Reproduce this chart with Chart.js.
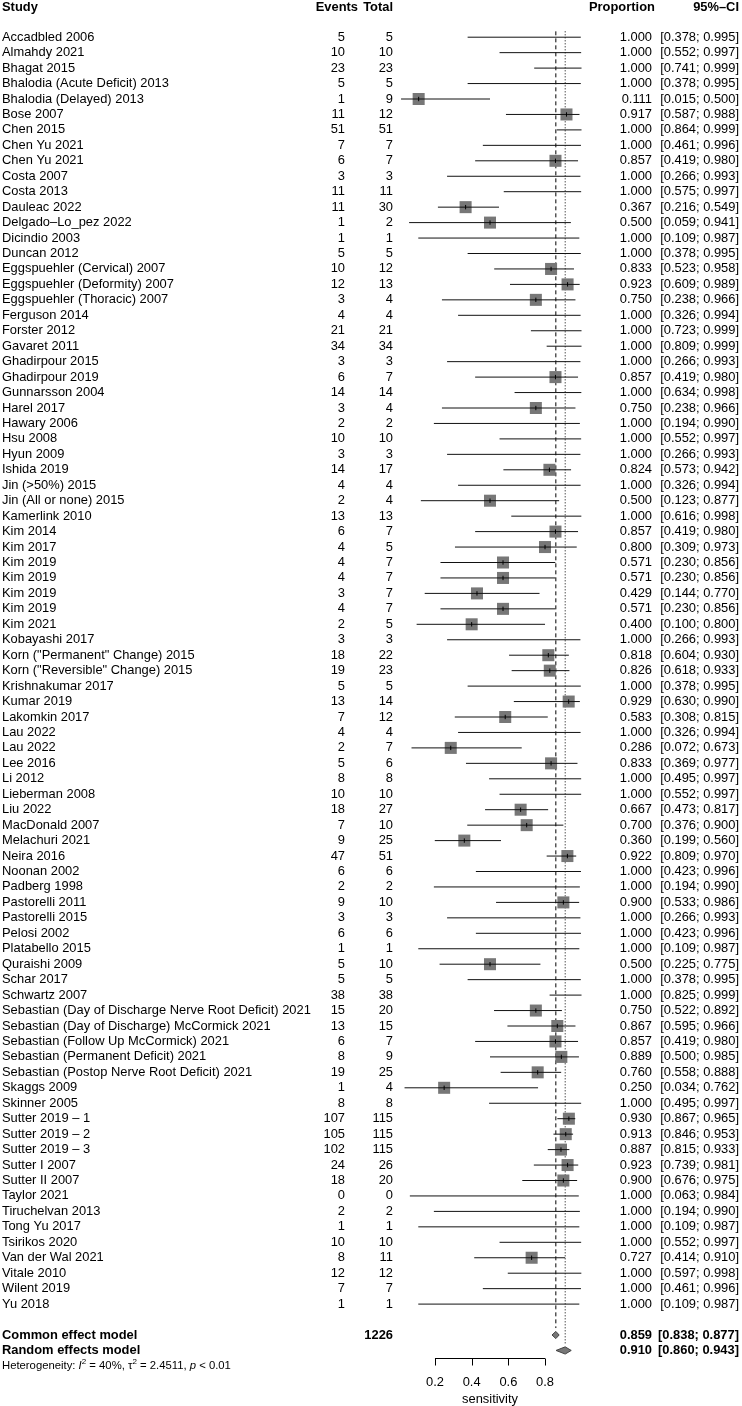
<!DOCTYPE html>
<html>
<head>
<meta charset="utf-8">
<script src="https://cdn.jsdelivr.net/npm/chart.js@4.4.0/dist/chart.umd.min.js"></script>
<style>
  html, body { margin: 0; padding: 0; background: #fff; }
  #wrap { width: 742px; height: 1406px; }
</style>
</head>
<body>
<div id="wrap"><canvas id="forest" width="742" height="1406"></canvas></div>
<script>
var studies = ["Accadbled 2006", "Almahdy 2021", "Bhagat 2015", "Bhalodia (Acute Deficit) 2013", "Bhalodia (Delayed) 2013",
  "Bose 2007", "Chen 2015", "Chen Yu 2021", "Chen Yu 2021", "Costa 2007", "Costa 2013", "Dauleac 2022",
  "Delgado\u2013Lo_pez 2022", "Dicindio 2003", "Duncan 2012", "Eggspuehler (Cervical) 2007", "Eggspuehler (Deformity) 2007",
  "Eggspuehler (Thoracic) 2007", "Ferguson 2014", "Forster 2012", "Gavaret 2011", "Ghadirpour 2015", "Ghadirpour 2019",
  "Gunnarsson 2004", "Harel 2017", "Hawary 2006", "Hsu 2008", "Hyun 2009", "Ishida 2019", "Jin (>50%) 2015",
  "Jin (All or none) 2015", "Kamerlink 2010", "Kim 2014", "Kim 2017", "Kim 2019", "Kim 2019", "Kim 2019", "Kim 2019",
  "Kim 2021", "Kobayashi 2017", "Korn (\"Permanent\" Change) 2015", "Korn (\"Reversible\" Change) 2015", "Krishnakumar 2017",
  "Kumar 2019", "Lakomkin 2017", "Lau 2022", "Lau 2022", "Lee 2016", "Li 2012", "Lieberman 2008", "Liu 2022",
  "MacDonald 2007", "Melachuri 2021", "Neira 2016", "Noonan 2002", "Padberg 1998", "Pastorelli 2011", "Pastorelli 2015",
  "Pelosi 2002", "Platabello 2015", "Quraishi 2009", "Schar 2017", "Schwartz 2007",
  "Sebastian (Day of Discharge Nerve Root Deficit) 2021", "Sebastian (Day of Discharge) McCormick 2021",
  "Sebastian (Follow Up McCormick) 2021", "Sebastian (Permanent Deficit) 2021", "Sebastian (Postop Nerve Root Deficit) 2021",
  "Skaggs 2009", "Skinner 2005", "Sutter 2019 \u2013 1", "Sutter 2019 \u2013 2", "Sutter 2019 \u2013 3", "Sutter I 2007",
  "Sutter II 2007", "Taylor 2021", "Tiruchelvan 2013", "Tong Yu 2017", "Tsirikos 2020", "Van der Wal 2021",
  "Vitale 2010", "Wilent 2019", "Yu 2018"];

var events = [5, 10, 23, 5, 1, 11, 51, 7, 6, 3, 11, 11, 1, 1, 5, 10, 12, 3, 4, 21, 34, 3, 6, 14, 3, 2, 10, 3, 14, 4,
  2, 13, 6, 4, 4, 4, 3, 4, 2, 3, 18, 19, 5, 13, 7, 4, 2, 5, 8, 10, 18, 7, 9, 47, 6, 2, 9, 3, 6, 1, 5, 5, 38,
  15, 13, 6, 8, 19, 1, 8, 107, 105, 102, 24, 18, 0, 2, 1, 10, 8, 12, 7, 1];

var totals = [5, 10, 23, 5, 9, 12, 51, 7, 7, 3, 11, 30, 2, 1, 5, 12, 13, 4, 4, 21, 34, 3, 7, 14, 4, 2, 10, 3, 17, 4,
  4, 13, 7, 5, 7, 7, 7, 7, 5, 3, 22, 23, 5, 14, 12, 4, 7, 6, 8, 10, 27, 10, 25, 51, 6, 2, 10, 3, 6, 1, 10, 5, 38,
  20, 15, 7, 9, 25, 4, 8, 115, 115, 115, 26, 20, 0, 2, 1, 10, 11, 12, 7, 1];

var props = [1, 1, 1, 1, 0.111, 0.917, 1, 1, 0.857, 1, 1, 0.367, 0.5, 1, 1, 0.833, 0.923, 0.75, 1, 1, 1, 1, 0.857, 1,
  0.75, 1, 1, 1, 0.824, 1, 0.5, 1, 0.857, 0.8, 0.571, 0.571, 0.429, 0.571, 0.4, 1, 0.818, 0.826, 1, 0.929, 0.583, 1,
  0.286, 0.833, 1, 1, 0.667, 0.7, 0.36, 0.922, 1, 1, 0.9, 1, 1, 1, 0.5, 1, 1, 0.75, 0.867, 0.857, 0.889, 0.76, 0.25,
  1, 0.93, 0.913, 0.887, 0.923, 0.9, 1, 1, 1, 1, 0.727, 1, 1, 1];

var lowers = [0.378, 0.552, 0.741, 0.378, 0.015, 0.587, 0.864, 0.461, 0.419, 0.266, 0.575, 0.216, 0.059, 0.109, 0.378,
  0.523, 0.609, 0.238, 0.326, 0.723, 0.809, 0.266, 0.419, 0.634, 0.238, 0.194, 0.552, 0.266, 0.573, 0.326, 0.123, 0.616,
  0.419, 0.309, 0.230, 0.230, 0.144, 0.230, 0.100, 0.266, 0.604, 0.618, 0.378, 0.630, 0.308, 0.326, 0.072, 0.369, 0.495,
  0.552, 0.473, 0.376, 0.199, 0.809, 0.423, 0.194, 0.533, 0.266, 0.423, 0.109, 0.225, 0.378, 0.825, 0.522, 0.595, 0.419,
  0.500, 0.558, 0.034, 0.495, 0.867, 0.846, 0.815, 0.739, 0.676, 0.063, 0.194, 0.109, 0.552, 0.414, 0.597, 0.461, 0.109];

var uppers = [0.995, 0.997, 0.999, 0.995, 0.500, 0.988, 0.999, 0.996, 0.980, 0.993, 0.997, 0.549, 0.941, 0.987, 0.995,
  0.958, 0.989, 0.966, 0.994, 0.999, 0.999, 0.993, 0.980, 0.998, 0.966, 0.990, 0.997, 0.993, 0.942, 0.994, 0.877, 0.998,
  0.980, 0.973, 0.856, 0.856, 0.770, 0.856, 0.800, 0.993, 0.930, 0.933, 0.995, 0.990, 0.815, 0.994, 0.673, 0.977, 0.997,
  0.997, 0.817, 0.900, 0.560, 0.970, 0.996, 0.990, 0.986, 0.993, 0.996, 0.987, 0.775, 0.995, 0.999, 0.892, 0.966, 0.980,
  0.985, 0.888, 0.762, 0.997, 0.965, 0.953, 0.933, 0.981, 0.975, 0.984, 0.990, 0.987, 0.997, 0.910, 0.998, 0.996, 0.987];

var pooledLabels = ["Common effect model", "Random effects model"];
var pooledEst = [0.859, 0.910];
var pooledLow = [0.838, 0.860];
var pooledHigh = [0.877, 0.943];
var totalN = 1226;
var xTicks = [0.2, 0.4, 0.6, 0.8];

// layout
var FONT = '"Liberation Sans", Arial, Helvetica, sans-serif';
var FS = "12.9px ";
var ROW0 = 37.2, ROWH = 15.45;
var nRows = studies.length;
var rowCommon = nRows + 1, rowRandom = nRows + 2, rowHet = nRows + 3;

function fmt(v) { return v.toFixed(3); }
function ci(lo, hi) { return "[" + fmt(lo) + "; " + fmt(hi) + "]"; }

var datasets = [];

// CI whiskers, one per study
studies.forEach(function (s, i) {
  datasets.push({
    type: "scatter", showLine: true, order: 0,
    data: [{ x: lowers[i], y: i }, { x: uppers[i], y: i }],
    borderColor: "#111", borderWidth: 1, pointRadius: 0
  });
});

// squares (studies with an estimable point)
var sq = [];
props.forEach(function (p, i) { if (p < 1) sq.push({ x: p, y: i }); });
datasets.push({
  type: "scatter", order: 2, data: sq,
  pointStyle: "rect", pointRadius: 8.5, backgroundColor: "#777777", borderWidth: 0
});
datasets.push({
  type: "scatter", order: -1, data: sq,
  pointStyle: "line", rotation: 90, pointRadius: 2.2, borderColor: "#000", borderWidth: 1
});

// reference lines
datasets.push({
  type: "scatter", showLine: true, order: 3,
  data: [{ x: pooledEst[0], y: -0.38 }, { x: pooledEst[0], y: rowCommon - 0.45 }],
  borderColor: "#000", borderWidth: 1, borderDash: [4, 3], pointRadius: 0
});
datasets.push({
  type: "scatter", showLine: true, order: 3,
  data: [{ x: pooledEst[1], y: -0.38 }, { x: pooledEst[1], y: rowRandom - 0.45 }],
  borderColor: "#000", borderWidth: 1, borderDash: [1, 2], pointRadius: 0
});

var forestPlugin = {
  id: "forestText",
  afterDatasetsDraw: function (chart) {
    var ctx = chart.ctx, xs = chart.scales.x, ys = chart.scales.y;
    ctx.save();
    // diamonds
    [rowCommon, rowRandom].forEach(function (r, k) {
      var yp = ys.getPixelForValue(r), h = 3.6;
      ctx.beginPath();
      ctx.moveTo(xs.getPixelForValue(pooledLow[k]), yp);
      ctx.lineTo(xs.getPixelForValue(pooledEst[k]), yp - h);
      ctx.lineTo(xs.getPixelForValue(pooledHigh[k]), yp);
      ctx.lineTo(xs.getPixelForValue(pooledEst[k]), yp + h);
      ctx.closePath();
      ctx.fillStyle = "#777777";
      ctx.fill();
      ctx.strokeStyle = "#444";
      ctx.lineWidth = 1;
      ctx.stroke();
    });

    // x axis
    var ay = Math.round(ys.getPixelForValue(rowRandom + 0.5)) + 0.5;
    var ax0 = xs.getPixelForValue(xTicks[0]), ax1 = xs.getPixelForValue(xTicks[xTicks.length - 1]);
    ctx.strokeStyle = "#000";
    ctx.beginPath();
    ctx.moveTo(ax0, ay); ctx.lineTo(ax1, ay);
    xTicks.forEach(function (t) {
      var px = Math.round(xs.getPixelForValue(t)) + 0.5;
      ctx.moveTo(px, ay); ctx.lineTo(px, ay + 7);
    });
    ctx.stroke();
    ctx.fillStyle = "#000";
    ctx.textBaseline = "middle";
    ctx.textAlign = "center";
    ctx.font = FS + FONT;
    xTicks.forEach(function (t) {
      ctx.fillText(String(t), xs.getPixelForValue(t), ay + 24);
    });
    ctx.fillText("sensitivity", xs.getPixelForValue(0.5), ay + 41);

    // header
    var hy = ys.getPixelForValue(-1.95);
    ctx.font = "bold " + FS + FONT;
    ctx.textAlign = "left"; ctx.fillText("Study", 2, hy);
    ctx.textAlign = "right";
    ctx.fillText("Events", 358, hy);
    ctx.fillText("Total", 393, hy);
    ctx.textAlign = "left";
    ctx.fillText("Proportion", 589, hy);
    ctx.textAlign = "right";
    ctx.fillText("95%\u2013CI", 739, hy);

    // study rows
    ctx.font = FS + FONT;
    studies.forEach(function (s, i) {
      var yp = ys.getPixelForValue(i);
      ctx.textAlign = "left"; ctx.fillText(s, 2, yp);
      ctx.textAlign = "right";
      ctx.fillText(String(events[i]), 345, yp);
      ctx.fillText(String(totals[i]), 393, yp);
      ctx.fillText(fmt(props[i]), 652, yp);
      ctx.fillText(ci(lowers[i], uppers[i]), 739, yp);
    });

    // pooled rows
    ctx.font = "bold " + FS + FONT;
    [rowCommon, rowRandom].forEach(function (r, k) {
      var yp = ys.getPixelForValue(r);
      ctx.textAlign = "left"; ctx.fillText(pooledLabels[k], 2, yp);
      ctx.textAlign = "right";
      if (k === 0) ctx.fillText(String(totalN), 393, yp);
      ctx.fillText(fmt(pooledEst[k]), 652, yp);
      ctx.fillText(ci(pooledLow[k], pooledHigh[k]), 739, yp);
    });

    // heterogeneity
    var hyy = ys.getPixelForValue(rowHet);
    var runs = [
      { t: "Heterogeneity: ", f: "11.3px " + FONT },
      { t: "I", f: "italic 11.3px " + FONT },
      { t: "2", f: "8px " + FONT, sup: true },
      { t: " = 40%, \u03C4", f: "11.3px " + FONT },
      { t: "2", f: "8px " + FONT, sup: true },
      { t: " = 2.4511, ", f: "11.3px " + FONT },
      { t: "p", f: "italic 11.3px " + FONT },
      { t: " < 0.01", f: "11.3px " + FONT }
    ];
    ctx.textAlign = "left";
    var cx = 2;
    runs.forEach(function (r) {
      ctx.font = r.f;
      ctx.fillText(r.t, cx, r.sup ? hyy - 4 : hyy);
      cx += ctx.measureText(r.t).width;
    });
    ctx.restore();
  }
};

var yMin = -ROW0 / ROWH;
var yMax = yMin + 1406 / ROWH;

var chart = new Chart(document.getElementById("forest").getContext("2d"), {
  type: "scatter",
  data: { datasets: datasets },
  options: {
    responsive: false,
    animation: false,
    devicePixelRatio: 1,
    layout: { autoPadding: false, padding: { left: 398.3, right: 160.3, top: 0, bottom: 0 } },
    scales: {
      x: { type: "linear", min: 0, max: 1, display: false },
      y: { type: "linear", min: yMin, max: yMax, reverse: true, display: false }
    },
    plugins: { legend: { display: false }, tooltip: { enabled: false } },
    clip: false
  },
  plugins: [forestPlugin]
});
</script>
</body>
</html>
